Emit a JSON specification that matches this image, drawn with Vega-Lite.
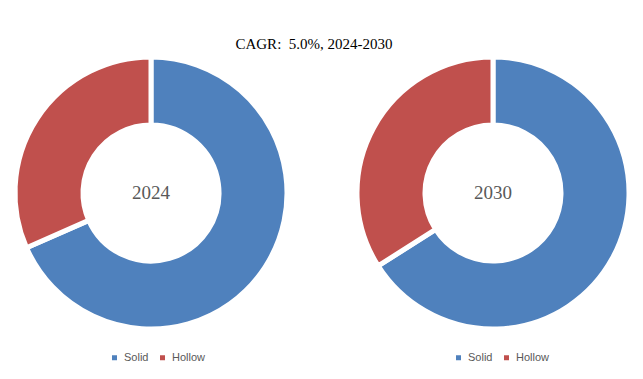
{
  "$schema": "https://vega.github.io/schema/vega-lite/v6.json",
  "background": "white",
  "padding": {"left": 1, "top": 37, "right": 0, "bottom": 0},
  "title": {"text": "CAGR:\u00a0 5.0%, 2024-2030", "font": "Liberation Serif", "fontSize": 15, "fontWeight": "normal", "color": "#000000", "anchor": "middle", "offset": -5, "dx": -8},
  "datasets": {
    "d2024": [
      {"year": "2024", "type": "Solid", "share": 68.4},
      {"year": "2024", "type": "Hollow", "share": 31.6}
    ],
    "d2030": [
      {"year": "2030", "type": "Solid", "share": 66.0},
      {"year": "2030", "type": "Hollow", "share": 34.0}
    ]
  },
  "spacing": 42,
  "hconcat": [
    {
      "width": 300,
      "height": 268,
      "data": {"name": "d2024"},
      "layer": [
        {
          "mark": {"type": "arc", "outerRadius": 136, "innerRadius": 68, "stroke": "white", "strokeWidth": 5},
          "encoding": {
            "theta": {"field": "share", "type": "quantitative", "stack": true},
            "color": {"field": "type", "type": "nominal", "scale": {"domain": ["Solid", "Hollow"], "range": ["#4F81BD", "#C0504D"]},
              "legend": {"title": null, "orient": "none", "legendX": 108, "legendY": 293, "direction": "horizontal", "symbolType": "square", "symbolSize": 25, "symbolStrokeWidth": 0, "labelFont": "Liberation Sans", "labelFontSize": 11, "labelColor": "#595959", "labelOffset": 4, "columnPadding": 8}},
            "order": {"field": "type", "sort": "descending"}
          }
        },
        {
          "transform": [{"filter": "datum.type === 'Solid'"}],
          "mark": {"type": "text", "font": "Liberation Serif", "fontSize": 19, "color": "#595959"},
          "encoding": {"text": {"field": "year", "type": "nominal"}}
        }
      ]
    },
    {
      "width": 300,
      "height": 268,
      "data": {"name": "d2030"},
      "layer": [
        {
          "mark": {"type": "arc", "outerRadius": 136, "innerRadius": 68, "stroke": "white", "strokeWidth": 5},
          "encoding": {
            "theta": {"field": "share", "type": "quantitative", "stack": true},
            "color": {"field": "type", "type": "nominal", "scale": {"domain": ["Solid", "Hollow"], "range": ["#4F81BD", "#C0504D"]},
              "legend": {"title": null, "orient": "none", "legendX": 110, "legendY": 293, "direction": "horizontal", "symbolType": "square", "symbolSize": 25, "symbolStrokeWidth": 0, "labelFont": "Liberation Sans", "labelFontSize": 11, "labelColor": "#595959", "labelOffset": 4, "columnPadding": 8}},
            "order": {"field": "type", "sort": "descending"}
          }
        },
        {
          "transform": [{"filter": "datum.type === 'Solid'"}],
          "mark": {"type": "text", "font": "Liberation Serif", "fontSize": 19, "color": "#595959"},
          "encoding": {"text": {"field": "year", "type": "nominal"}}
        }
      ]
    }
  ],
  "resolve": {"scale": {"color": "independent"}, "legend": {"color": "independent"}},
  "config": {"view": {"stroke": null}}
}
